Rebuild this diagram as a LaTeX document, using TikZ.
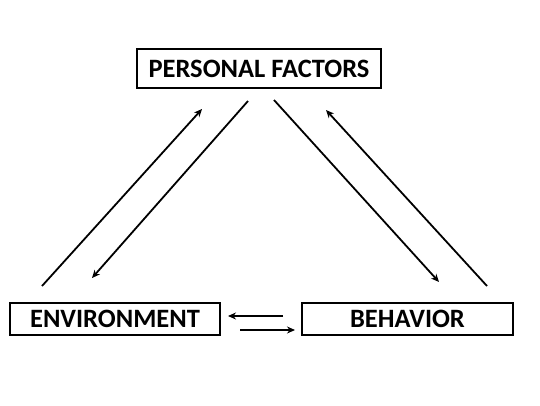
\documentclass[tikz,border=0pt]{standalone}
\usepackage{fontspec}
\setmainfont{Carlito}
\usetikzlibrary{arrows.meta}
\begin{document}
\begin{tikzpicture}[x=1pt,y=-1pt,
  factor/.style={draw,line width=1.8pt,inner sep=0pt,font=\fontsize{26.5}{30}\selectfont\bfseries},
  link/.style={line width=1.8pt,-{Stealth[length=8pt,width=7pt]}}]
\useasboundingbox (0,0) rectangle (540,405);
\node[factor,minimum width=244pt,minimum height=39pt] (pf) at (259,68.5) {PERSONAL FACTORS};
\node[factor,minimum width=210pt,minimum height=32pt] (env) at (115,319) {ENVIRONMENT};
\node[factor,minimum width=211pt,minimum height=32pt] (beh) at (407.5,319) {BEHAVIOR};
\coordinate (a1) at (42,286); \coordinate (a2) at (202,109);
\coordinate (b1) at (248,101); \coordinate (b2) at (92,278);
\coordinate (c1) at (274,100); \coordinate (c2) at (439,282);
\coordinate (d1) at (487,286); \coordinate (d2) at (326,110);
\coordinate (e1) at (283,316); \coordinate (e2) at (228,316);
\coordinate (f1) at (240,330); \coordinate (f2) at (295,330);
\draw[link] (a1) -- (a2);
\draw[link] (b1) -- (b2);
\draw[link] (c1) -- (c2);
\draw[link] (d1) -- (d2);
\draw[link] (e1) -- (e2);
\draw[link] (f1) -- (f2);
\end{tikzpicture}
\end{document}
